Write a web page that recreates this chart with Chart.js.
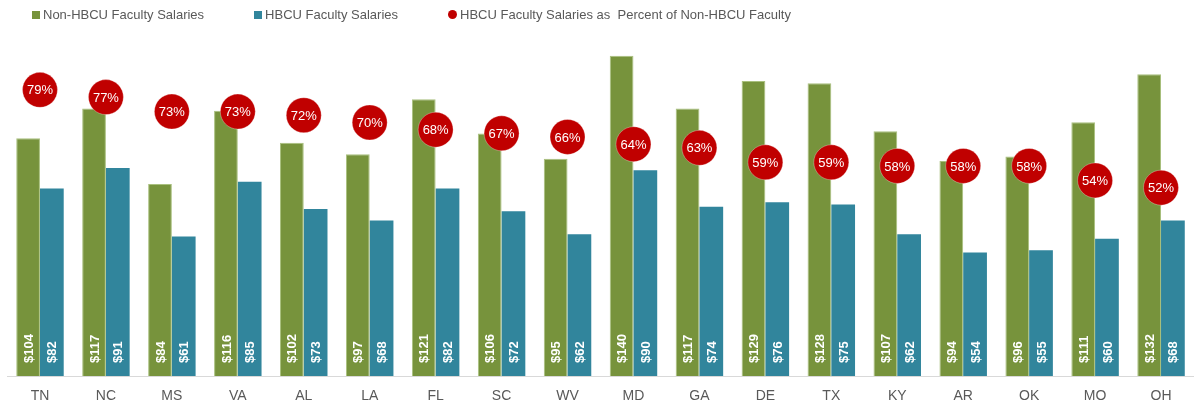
<!DOCTYPE html>
<html>
<head>
<meta charset="utf-8">
<script src="https://cdn.jsdelivr.net/npm/chart.js@4"></script>
<style>
  html, body { margin: 0; padding: 0; background: #fff; }
  #wrap { position: relative; width: 1194px; height: 409px; }
  #legend {
    position: absolute; top: 7px; left: 32px;
    display: flex; font: 13px "Liberation Sans", Arial, sans-serif; color: #595959;
  }
  .item { display: flex; align-items: center; margin-right: 50px; white-space: nowrap; }
  .sw { width: 8px; height: 8px; margin-right: 3px; }
  .dot { width: 9px; height: 9px; border-radius: 50%; margin-right: 3px; }
</style>
</head>
<body>
<div id="wrap">
  <canvas id="chart" width="1194" height="409"></canvas>
  <div id="legend">
    <div class="item"><span class="sw" style="background:#77933C"></span>Non-HBCU Faculty Salaries</div>
    <div class="item"><span class="sw" style="background:#31859C"></span>HBCU Faculty Salaries</div>
    <div class="item"><span class="dot" style="background:#C00000"></span>HBCU Faculty Salaries as&nbsp; Percent of Non-HBCU Faculty</div>
  </div>
</div>
<script>
// --- data ---
const states = ["TN", "NC", "MS", "VA", "AL", "LA", "FL", "SC", "WV", "MD", "GA", "DE", "TX", "KY", "AR", "OK", "MO", "OH"];
const nonHbcuSalary = [104, 117, 84, 116, 102, 97, 121, 106, 95, 140, 117, 129, 128, 107, 94, 96, 111, 132];
const hbcuSalary = [82, 91, 61, 85, 73, 68, 82, 72, 62, 90, 74, 76, 75, 62, 54, 55, 60, 68];
const pctOfNonHbcu = [79, 77, 73, 73, 72, 70, 68, 67, 66, 64, 63, 59, 59, 58, 58, 58, 54, 52];

const GREEN = "#77933C";
const TEAL = "#31859C";
const RED = "#C00000";
const FONT = '"Liberation Sans", Arial, sans-serif';

// labels: $ values rotated inside the bars, % inside the red dots
const labelPlugin = {
  id: "labelPlugin",
  afterDatasetsDraw(chart) {
    const ctx = chart.ctx;
    const base = chart.scales.y.getPixelForValue(0);

    [0, 1].forEach(di => {
      const meta = chart.getDatasetMeta(di);
      const vals = chart.data.datasets[di].data;
      meta.data.forEach((bar, i) => {
        ctx.save();
        ctx.translate(bar.x, base - 13);
        ctx.rotate(-Math.PI / 2);
        ctx.font = "bold 13px " + FONT;
        ctx.fillStyle = "#fff";
        ctx.textAlign = "left";
        ctx.textBaseline = "middle";
        ctx.fillText("$" + vals[i], 0, 1);
        ctx.restore();
      });
    });

    const pm = chart.getDatasetMeta(2);
    pm.data.forEach((pt, i) => {
      ctx.save();
      ctx.font = "13px " + FONT;
      ctx.fillStyle = "#fff";
      ctx.textAlign = "center";
      ctx.textBaseline = "middle";
      ctx.fillText(pctOfNonHbcu[i] + "%", pt.x, pt.y + 1);
      ctx.restore();
    });
  }
};

new Chart(document.getElementById("chart"), {
  type: "bar",
  data: {
    labels: states,
    datasets: [
      {
        label: "Non-HBCU Faculty Salaries",
        data: nonHbcuSalary,
        backgroundColor: GREEN,
        borderColor: "#a9c07e",
        borderWidth: 1,
        categoryPercentage: 0.72,
        barPercentage: 1.0,
        yAxisID: "y",
        order: 2
      },
      {
        label: "HBCU Faculty Salaries",
        data: hbcuSalary,
        backgroundColor: TEAL,
        borderWidth: 0,
        categoryPercentage: 0.72,
        barPercentage: 1.0,
        yAxisID: "y",
        order: 2
      },
      {
        type: "line",
        label: "HBCU Faculty Salaries as Percent of Non-HBCU Faculty",
        data: pctOfNonHbcu,
        showLine: false,
        pointRadius: 17.5,
        pointHoverRadius: 17.5,
        pointBackgroundColor: RED,
        pointBorderColor: "rgba(255,255,255,0.6)",
        pointBorderWidth: 0.5,
        yAxisID: "y2",
        order: 1
      }
    ]
  },
  options: {
    responsive: false,
    animation: false,
    layout: { autoPadding: false, padding: { top: 33, left: 7, right: 0, bottom: 0 } },
    plugins: {
      legend: { display: false },
      tooltip: { enabled: false }
    },
    scales: {
      x: {
        offset: true,
        grid: { display: true, drawOnChartArea: false, drawTicks: false },
        border: { display: true, color: "#d9d9d9", width: 1 },
        ticks: { color: "#595959", font: { family: FONT, size: 14 }, padding: 12 },
        afterFit(scale) { scale.height = 33; }
      },
      y: {
        display: false,
        min: 0,
        max: 150
      },
      y2: {
        display: false,
        min: 0,
        max: 94.7
      }
    }
  },
  plugins: [labelPlugin]
});
</script>
</body>
</html>
